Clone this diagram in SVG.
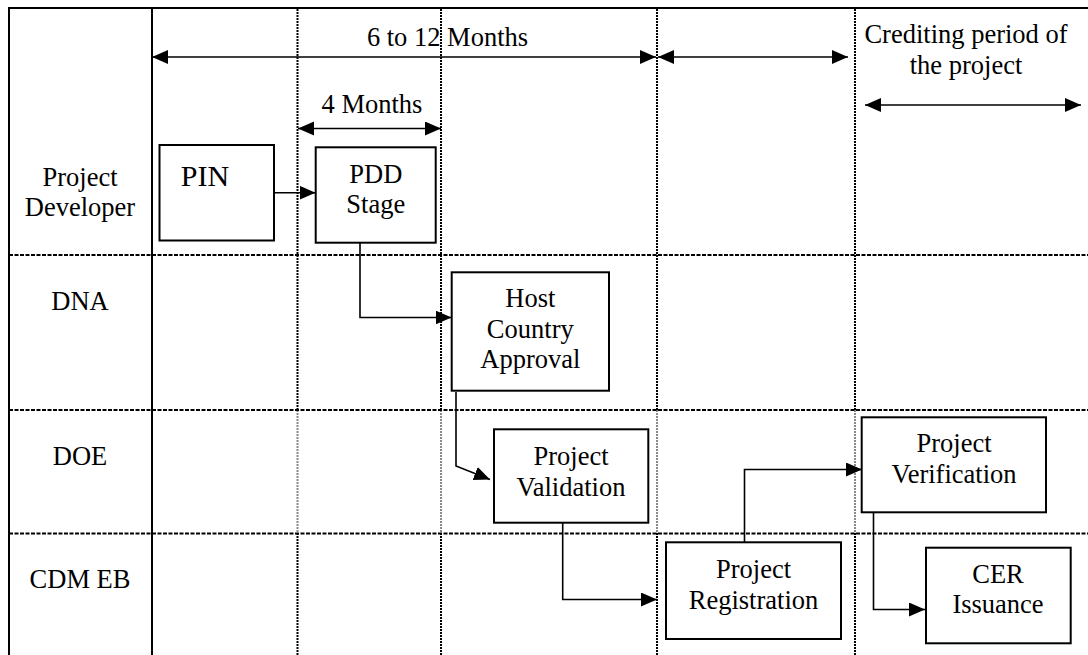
<svg xmlns="http://www.w3.org/2000/svg" width="1088" height="655" viewBox="0 0 1088 655">
<style>
  .t { font-family: "Liberation Serif", "Times New Roman", serif; font-size: 26.5px; fill: #000; text-anchor: middle; }
  .big { font-size: 30px; }
  .box { fill: #fff; stroke: #000; stroke-width: 2; }
  .solid { stroke: #000; stroke-width: 2; fill: none; }
  .dot { stroke: #000; stroke-width: 2; stroke-dasharray: 2 1; fill: none; }
  .dotg { stroke: #8a8a8a; stroke-width: 2; stroke-dasharray: 2 1; fill: none; }
  .dash { stroke: #000; stroke-width: 2; stroke-dasharray: 4 1.5; fill: none; }
  .conn { stroke: #000; stroke-width: 1.6; fill: none; marker-end: url(#ah); }
  .dbl { stroke: #000; stroke-width: 1.6; fill: none; marker-end: url(#ah); marker-start: url(#ah); }
</style>
<defs>
  <marker id="ah" markerUnits="userSpaceOnUse" markerWidth="17" markerHeight="15" refX="16" refY="7" orient="auto-start-reverse">
    <path d="M0,0 L16,7 L0,14 z" fill="#000"/>
  </marker>
</defs>
<rect x="0" y="0" width="1088" height="655" fill="#fff"/>

<g id="grid">
  <line class="solid" x1="8" y1="8" x2="1088" y2="8"/>
  <line class="solid" x1="9" y1="7" x2="9" y2="655"/>
  <line class="solid" x1="152" y1="8" x2="152" y2="655"/>
  <line class="dot" x1="297.5" y1="9" x2="297.5" y2="410"/>
  <line class="dotg" x1="297.5" y1="410" x2="297.5" y2="533"/>
  <line class="dot" x1="297.5" y1="533" x2="297.5" y2="655"/>
  <line class="dot" x1="441" y1="9" x2="441" y2="410"/>
  <line class="dotg" x1="441" y1="410" x2="441" y2="533"/>
  <line class="dot" x1="441" y1="533" x2="441" y2="655"/>
  <line class="dot" x1="657" y1="9" x2="657" y2="410"/>
  <line class="dotg" x1="657" y1="410" x2="657" y2="533"/>
  <line class="dot" x1="657" y1="533" x2="657" y2="655"/>
  <line class="dot" x1="855" y1="9" x2="855" y2="410"/>
  <line class="dotg" x1="855" y1="410" x2="855" y2="533"/>
  <line class="dot" x1="855" y1="533" x2="855" y2="655"/>
  <line class="dash" x1="9" y1="255" x2="1088" y2="255"/>
  <line class="dash" x1="9" y1="410" x2="1088" y2="410"/>
  <line class="dash" x1="9" y1="533.5" x2="1088" y2="533.5"/>
</g>

<g id="lane-labels">
  <text class="t" x="80" y="186">Project</text>
  <text class="t" x="80" y="216">Developer</text>
  <text class="t" x="80" y="310">DNA</text>
  <text class="t" x="80" y="465">DOE</text>
  <text class="t" x="80" y="588">CDM EB</text>
</g>

<g id="timeline">
  <text class="t" x="447.5" y="46">6 to 12 Months</text>
  <text class="t" x="372" y="113">4 Months</text>
  <text class="t" x="966" y="43">Crediting period of</text>
  <text class="t" x="966" y="74">the project</text>
</g>

<g id="connectors">
  <line class="dbl" x1="152" y1="57" x2="656" y2="57"/>
  <line class="dbl" x1="658" y1="57" x2="848" y2="57"/>
  <line class="dbl" x1="298" y1="128.5" x2="441" y2="128.5"/>
  <line class="dbl" x1="865" y1="105" x2="1081" y2="105"/>
  <line class="conn" x1="270" y1="192.7" x2="315.5" y2="192.7"/>
  <path class="conn" d="M360,243 V317.5 H451.5"/>
  <path class="conn" d="M456,392 V466 L490,479.5"/>
  <path class="conn" d="M562.7,523 V599.5 H657"/>
  <path class="conn" d="M744.5,542 V469.5 H862"/>
  <path class="conn" d="M873.5,512 V609.5 H925"/>
</g>

<g id="node-pin">
  <rect class="box" x="159.5" y="145" width="114.5" height="95.5"/>
  <text class="t big" x="205" y="186">PIN</text>
</g>
<g id="node-pdd">
  <rect class="box" x="315.7" y="147.3" width="120" height="95.4"/>
  <text class="t" x="375.8" y="183.3">PDD</text>
  <text class="t" x="375.8" y="213.3">Stage</text>
</g>
<g id="node-hca">
  <rect class="box" x="451.7" y="272.3" width="157.3" height="118.4"/>
  <text class="t" x="530.3" y="306.7">Host</text>
  <text class="t" x="530.3" y="338">Country</text>
  <text class="t" x="530.3" y="368">Approval</text>
</g>
<g id="node-validation">
  <rect class="box" x="494" y="429.3" width="154.3" height="93.4"/>
  <text class="t" x="571" y="465">Project</text>
  <text class="t" x="571" y="496">Validation</text>
</g>
<g id="node-registration">
  <rect class="box" x="666" y="542.3" width="175" height="96.7"/>
  <text class="t" x="753.5" y="577.7">Project</text>
  <text class="t" x="753.5" y="609.3">Registration</text>
</g>
<g id="node-verification">
  <rect class="box" x="861.7" y="417.3" width="184.3" height="95"/>
  <text class="t" x="954" y="451.7">Project</text>
  <text class="t" x="954" y="483.3">Verification</text>
</g>
<g id="node-cer">
  <rect class="box" x="926" y="547.7" width="144.7" height="95.6"/>
  <text class="t" x="998" y="583.3">CER</text>
  <text class="t" x="998" y="613.3">Issuance</text>
</g>
</svg>
